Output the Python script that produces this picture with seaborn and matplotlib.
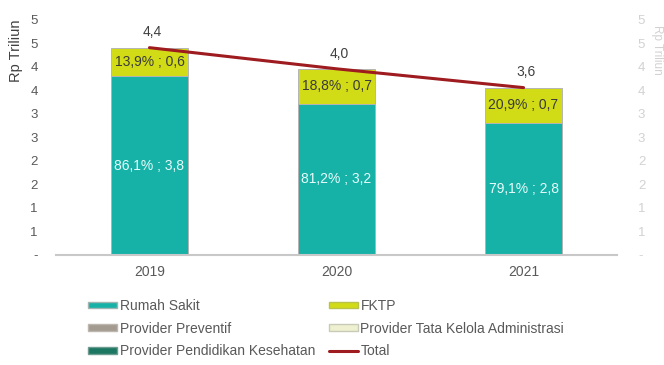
import numpy as np
import pandas as pd
import matplotlib
matplotlib.use("Agg")
import matplotlib.pyplot as plt
import matplotlib.patches as mpatches
from matplotlib.lines import Line2D
import seaborn as sns

# Spending by provider type (Rp trillion)
years = ["2019", "2020", "2021"]
totals = [4.41, 3.96, 3.56]
share_rumah_sakit = [86.1, 81.2, 79.1]
share_fktp = [13.9, 18.8, 20.9]

series_names = ["Rumah Sakit", "FKTP", "Provider Preventif",
                "Provider Tata Kelola Administrasi",
                "Provider Pendidikan Kesehatan", "Total"]

C_RS = "#17b2a7"
C_FKTP = "#d2dc16"
C_PREV = "#a39a90"
C_TATA = "#eef0cf"
C_PEND = "#1c7762"
C_TOTAL = "#9e1b1f"
TXT = "#595959"

df = pd.DataFrame({
    "year": years,
    "total": totals,
    "rs_pct": share_rumah_sakit,
    "fktp_pct": share_fktp,
})
df["rs"] = df["total"] * df["rs_pct"] / 100
df["fktp"] = df["total"] * df["fktp_pct"] / 100
df["stack"] = df["rs"] + df["fktp"]


def dec(v):
    return f"{v:.1f}".replace(".", ",")


def tick_fmt(v):
    if abs(v) < 1e-9:
        return "-"
    return str(int(np.floor(v + 0.5)))


sns.set_theme(style="white")
plt.rcParams["font.family"] = ["Liberation Sans", "DejaVu Sans"]

fig = plt.figure(figsize=(6.64, 3.65), dpi=100)
ax = fig.add_axes([0.0843, 0.3014, 0.845, 0.644])

# Stacked bars: full stack first, then the hospital segment over it
sns.barplot(data=df, x="year", y="stack", color=C_FKTP, width=0.41,
            edgecolor="#b5b5b5", linewidth=0.7, saturation=1, ax=ax)
sns.barplot(data=df, x="year", y="rs", color=C_RS, width=0.41,
            edgecolor="#b5b5b5", linewidth=0.7, saturation=1, ax=ax)

ymax = 5.0
ticks = np.arange(0, ymax + 0.01, 0.5)
ax.set_ylim(0, ymax)
ax.set_yticks(ticks)
ax.set_yticklabels([tick_fmt(t) for t in ticks])
ax.set_xlabel("")
ax.set_ylabel("Rp Triliun", loc="top", fontsize=10.5, color="#404040", labelpad=5)
ax.tick_params(axis="y", length=0, pad=13, labelsize=9.5, labelcolor=TXT)
ax.tick_params(axis="x", length=0, pad=7, labelsize=10, labelcolor=TXT)
for s in ["left", "right", "top"]:
    ax.spines[s].set_visible(False)
ax.spines["bottom"].set_color("#c8c8c8")
ax.spines["bottom"].set_linewidth(1.5)

# Segment labels
for i, r in df.iterrows():
    ax.text(i, r["rs"] / 2, f"{dec(r['rs_pct'])}% ; {dec(r['rs'])}",
            ha="center", va="center", fontsize=10, color="#e6fbfb")
    ax.text(i, r["rs"] + r["fktp"] / 2, f"{dec(r['fktp_pct'])}% ; {dec(r['fktp'])}",
            ha="center", va="center", fontsize=10, color="#3a3a3a")

# Total line on the secondary axis
ax2 = ax.twinx()
sns.pointplot(data=df, x="year", y="total", color=C_TOTAL, markersize=0,
              linewidth=2.2, errorbar=None, ax=ax2)
ax2.set_ylim(0, ymax)
ax2.set_yticks(ticks)
ax2.set_yticklabels([tick_fmt(t) for t in ticks])
ax2.tick_params(axis="y", length=0, pad=15, labelsize=9.5, labelcolor="#d2d2d2")
ax2.set_ylabel("")
ax2.set_xlabel("")
for s in ["left", "right", "top", "bottom"]:
    ax2.spines[s].set_visible(False)
fig.text(657 / 664, 1 - 50 / 365, "Rp Triliun", rotation=270, ha="center",
         va="center", fontsize=8.5, color="#d2d2d2")

for i, r in df.iterrows():
    ax2.annotate(dec(r["total"]), (i, r["total"]), xytext=(2, 11),
                 textcoords="offset points", ha="center", va="center",
                 fontsize=10, color="#404040")

# Legend
handles = [
    mpatches.Patch(facecolor=C_RS, edgecolor="#9fb5b2", label=series_names[0]),
    mpatches.Patch(facecolor=C_PREV, edgecolor="#bdb6ae", label=series_names[2]),
    mpatches.Patch(facecolor=C_PEND, edgecolor="#6f9c90", label=series_names[4]),
    mpatches.Patch(facecolor=C_FKTP, edgecolor="#b9c24a", label=series_names[1]),
    mpatches.Patch(facecolor=C_TATA, edgecolor="#c9cbb8", label=series_names[3]),
    Line2D([0], [0], color=C_TOTAL, lw=2.2, label=series_names[5]),
]
fig.legend(handles=handles, ncol=2, loc="upper left",
           bbox_to_anchor=(88 / 664, 1 - 299 / 365), frameon=False, fontsize=10,
           labelcolor=TXT, handlelength=2.1, handleheight=0.35,
           handletextpad=0.2, columnspacing=0.95, labelspacing=0.62,
           borderaxespad=0, borderpad=0)

fig.savefig("out.png", dpi=100)
